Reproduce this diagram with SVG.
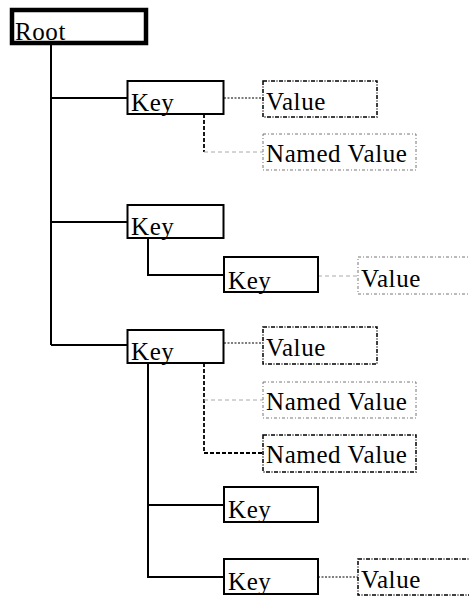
<svg xmlns="http://www.w3.org/2000/svg" width="469" height="597" viewBox="0 0 469 597">
<style>
text{font-family:"Liberation Serif","Times New Roman",serif;font-size:25px;letter-spacing:0.6px;fill:#000}
.key{fill:#fff;stroke:#000;stroke-width:2}
.root{fill:#fff;stroke:#000;stroke-width:4.5}
.vb{fill:#fff;stroke:#000;stroke-width:1.5;stroke-dasharray:4 1.5 1 1.5}
.vl{fill:#fff;stroke:#777;stroke-width:1;stroke-dasharray:3 2 1 2}
.tree{fill:none;stroke:#000;stroke-width:2}
.dot{fill:none;stroke:#000;stroke-width:1.2;stroke-dasharray:2 1.5}
.gray{fill:none;stroke:#aaa;stroke-width:1;stroke-dasharray:4 3}
.vdash{fill:none;stroke:#000;stroke-width:1.8;stroke-dasharray:4 2}
</style>
<g id="connectors">
<path class="tree" d="M51,45V345M51,98H127M51,222H127M51,345H127"/>
<path class="tree" d="M148,238V275H224"/>
<path class="tree" d="M148,363V577H224M148,505H224"/>
<path class="dot" d="M224,98H263M224,343H263M318,577H358"/>
<path class="vdash" d="M204,114V152"/>
<path class="gray" d="M204,152H263"/>
<path class="gray" d="M318,276H358"/>
<path class="vdash" d="M204,363V453H263"/>
<path class="gray" d="M204,400H263"/>
</g>
<g id="root"><rect class="root" x="12" y="10" width="134" height="33"/><text x="15" y="40">Root</text></g>
<g id="key1"><rect class="key" x="127.5" y="81" width="96" height="33"/><text x="131" y="111">Key</text></g>
<g id="value1"><rect class="vb" x="263" y="81" width="114" height="36"/><text x="266" y="110">Value</text></g>
<g id="named1"><rect class="vl" x="263" y="134" width="153" height="36"/><text x="266" y="162">Named Value</text></g>
<g id="key2"><rect class="key" x="127.5" y="205" width="96" height="33"/><text x="131" y="235">Key</text></g>
<g id="key2a"><rect class="key" x="224" y="257" width="94" height="35"/><text x="228" y="289">Key</text></g>
<g id="value2a"><rect class="vl" x="358" y="257" width="115" height="37"/><text x="361" y="287">Value</text></g>
<g id="key3"><rect class="key" x="127.5" y="330" width="96" height="33"/><text x="131" y="360">Key</text></g>
<g id="value3"><rect class="vb" x="263" y="327" width="114" height="37"/><text x="266" y="356">Value</text></g>
<g id="named3a"><rect class="vl" x="263" y="382" width="153" height="36"/><text x="266" y="410">Named Value</text></g>
<g id="named3b"><rect class="vb" x="263" y="435" width="153" height="37"/><text x="266" y="463">Named Value</text></g>
<g id="key4"><rect class="key" x="224" y="487" width="94" height="35"/><text x="228" y="518">Key</text></g>
<g id="key5"><rect class="key" x="224" y="559" width="94" height="35"/><text x="228" y="590">Key</text></g>
<g id="value5"><rect class="vb" x="358" y="559" width="115" height="36"/><text x="361" y="588">Value</text></g>
</svg>
